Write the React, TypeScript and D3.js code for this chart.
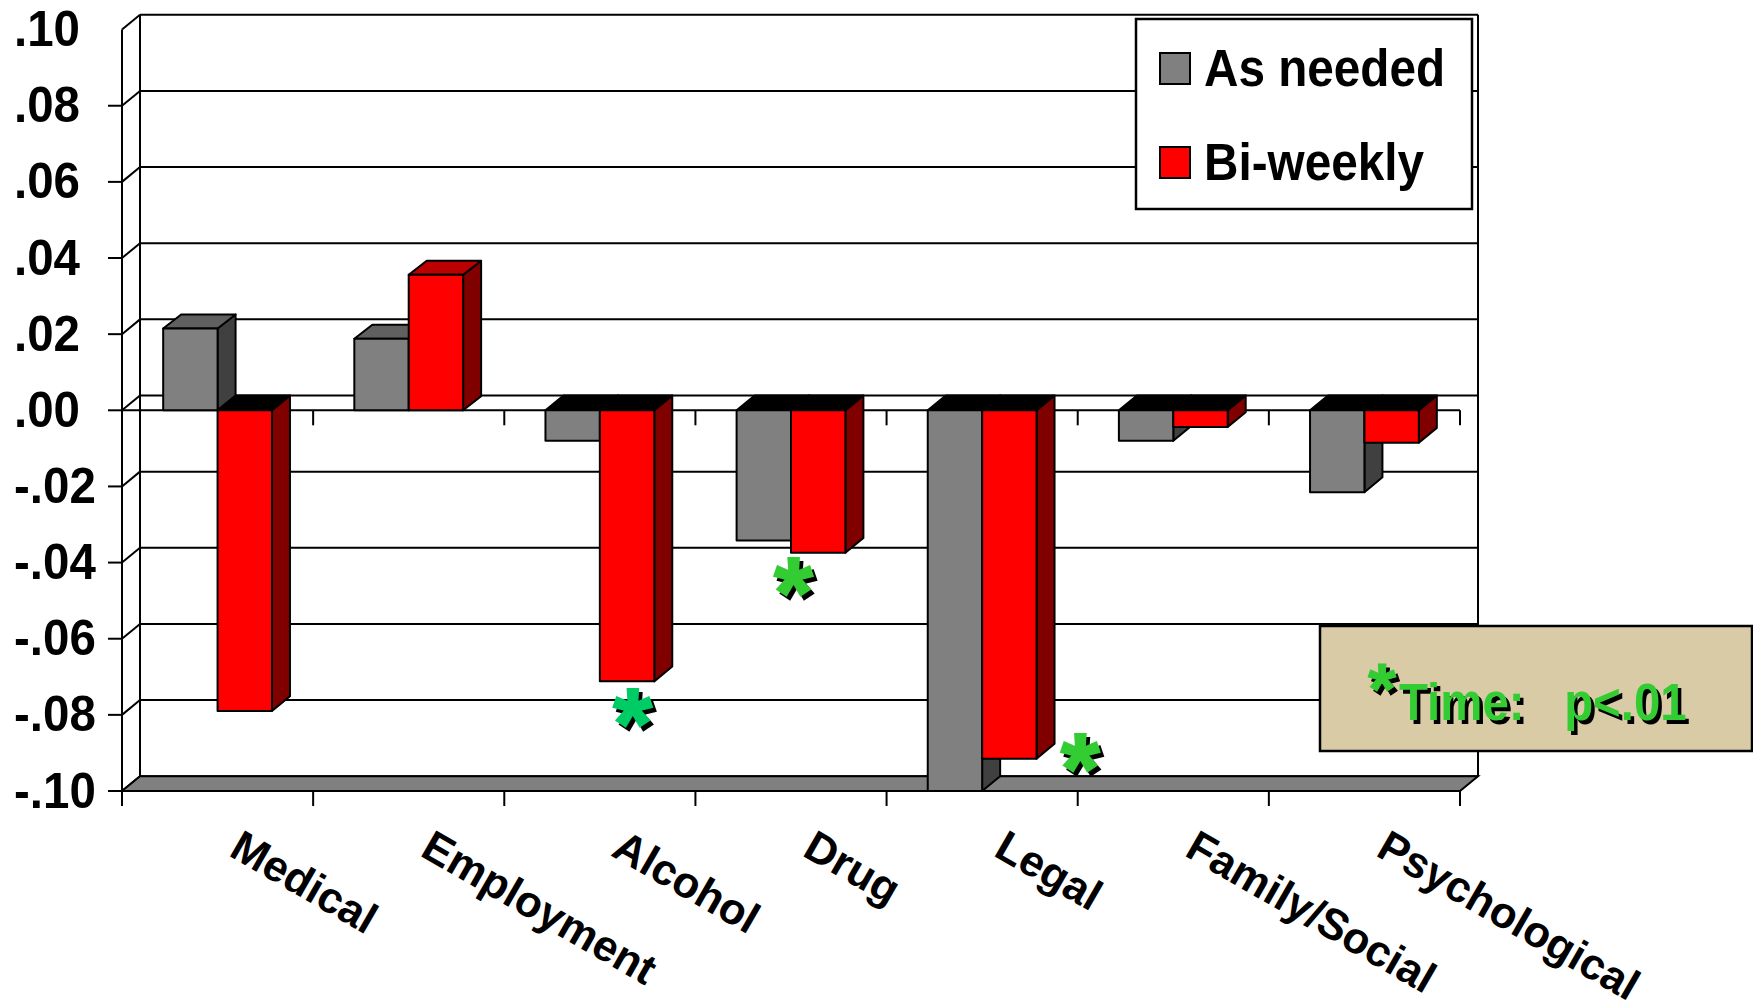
import * as d3 from "d3";

const categories = ["Medical", "Employment", "Alcohol", "Drug", "Legal", "Family/Social", "Psychological"];
const seriesNames = ["As needed", "Bi-weekly"];
const asNeeded = [0.0215, 0.0188, -0.008, -0.0342, -0.1, -0.008, -0.0215];
const biWeekly = [-0.079, 0.0356, -0.0712, -0.0374, -0.0915, -0.0044, -0.0085];
const yTicks = [0.1, 0.08, 0.06, 0.04, 0.02, 0, -0.02, -0.04, -0.06, -0.08, -0.1];
const yTickLabels = [".10", ".08", ".06", ".04", ".02", ".00", "-.02", "-.04", "-.06", "-.08", "-.10"];
// category position (in bands) and value of the significance stars
const starPos = [2.67, 3.51, 5.01];
const starVal = [-0.0788, -0.0444, -0.0906];
const starFill = ["#00cc66", "#33cc33", "#33cc33"];

const W = 1753;
const H = 1005;
const FONT = "'Liberation Sans', Arial, sans-serif";

const DX = 18;
const DY = -14.8;

const x = d3.scaleLinear().domain([0, categories.length]).range([122, 1460]);
const y = d3.scaleLinear().domain([-0.1, 0.1]).range([791, 29.6]);
const sub = d3.scaleBand<string>().domain(seriesNames).range([0, x(1) - x(0)]).paddingInner(0).paddingOuter(0.757);

const colors: Record<string, { front: string; top: string; side: string }> = {
  "As needed": { front: "#808080", top: "#606060", side: "#404040" },
  "Bi-weekly": { front: "#ff0000", top: "#bb0000", side: "#800000" },
};

function poly(points: [number, number][]) {
  return points.map((p) => p.join(",")).join(" ");
}

function Bar({ cat, name, value }: { cat: number; name: string; value: number }) {
  const c = colors[name];
  const x0 = x(cat) + (sub(name) as number);
  const x1 = x0 + sub.bandwidth();
  const yv = y(value);
  const y0 = y(0);
  const neg = value < 0;
  const topY = neg ? y0 : yv;
  const botY = neg ? yv : y0;
  const dy = neg ? DY : DY + 0.8;
  return (
    <g stroke="#000" strokeWidth={2} strokeLinejoin="round">
      <polygon fill={c.side} points={poly([[x1, topY], [x1 + DX, topY + dy], [x1 + DX, botY + dy], [x1, botY]])} />
      <polygon fill={neg ? "#000" : c.top} points={poly([[x0, topY], [x1, topY], [x1 + DX, topY + dy], [x0 + DX, topY + dy]])} />
      <rect x={x0} y={topY} width={x1 - x0} height={botY - topY} fill={c.front} />
    </g>
  );
}

// the original text is a little narrower than plain Liberation Sans Bold
function Label({ x: tx, y: ty, size, squeeze = 0.94, children }: { x: number; y: number; size: number; squeeze?: number; children: string }) {
  return (
    <text transform={`translate(${tx},${ty}) scale(${squeeze},1)`} fontFamily={FONT} fontWeight="bold" fontSize={size} fill="#000">
      {children}
    </text>
  );
}

function Shadowed({ x: tx, y: ty, size, fill, thick = 0, squeeze = 1, children }: { x: number; y: number; size: number; fill: string; thick?: number; squeeze?: number; children: string }) {
  return (
    <g fontFamily={FONT} fontWeight="bold" fontSize={size} strokeWidth={thick}>
      <text transform={`translate(${tx + 3.5},${ty + 3.5}) scale(${squeeze},1)`} fill="#000" stroke="#000">{children}</text>
      <text transform={`translate(${tx},${ty}) scale(${squeeze},1)`} fill={fill} stroke={fill}>{children}</text>
    </g>
  );
}

export default function App() {
  const left = x(0);
  const right = x(categories.length);
  const bottom = y(-0.1);
  const zero = y(0);
  const bands = d3.range(categories.length + 1);

  return (
    <svg width={W} height={H} viewBox={`0 0 ${W} ${H}`} style={{ position: "absolute", left: 0, top: 0, display: "block", background: "#fff" }}>
      {/* back wall and gridlines */}
      <g stroke="#000" strokeWidth={2} fill="none">
        {yTicks.map((t) => (
          <g key={t}>
            <line x1={left + DX} x2={right + DX} y1={y(t) + DY} y2={y(t) + DY} />
            <line x1={left} x2={left + DX} y1={y(t)} y2={y(t) + DY} />
            {t !== 0.1 && <line x1={left - 14} x2={left} y1={y(t)} y2={y(t)} />}
          </g>
        ))}
        <line x1={left} x2={left} y1={y(0.1)} y2={bottom + 15} />
        <line x1={left + DX} x2={left + DX} y1={y(0.1) + DY} y2={bottom + DY} />
        <line x1={right + DX} x2={right + DX} y1={y(0.1) + DY} y2={bottom + DY} />
      </g>

      {/* floor */}
      <polygon
        fill="#808080"
        stroke="#000"
        strokeWidth={2}
        points={poly([[left, bottom], [right, bottom], [right + DX, bottom + DY], [left + DX, bottom + DY]])}
      />

      {/* zero line and category ticks */}
      <g stroke="#000" strokeWidth={2}>
        <line x1={left} x2={right} y1={zero} y2={zero} />
        {bands.map((i) => (
          <g key={i}>
            <line x1={x(i)} x2={x(i)} y1={zero} y2={zero + 15} />
            <line x1={x(i)} x2={x(i)} y1={bottom} y2={bottom + 15} />
          </g>
        ))}
      </g>

      {/* bars */}
      {categories.map((c, i) => (
        <g key={c}>
          <Bar cat={i} name={seriesNames[0]} value={asNeeded[i]} />
          <Bar cat={i} name={seriesNames[1]} value={biWeekly[i]} />
        </g>
      ))}

      {/* y tick labels */}
      {yTicks.map((t, i) => (
        <Label key={t} x={14} y={y(t) + 16.5} size={50} squeeze={0.95}>{yTickLabels[i]}</Label>
      ))}

      {/* category labels */}
      <g fontFamily={FONT} fontWeight="bold" fontSize={43.6} fill="#000">
        {categories.map((c, i) => (
          <text key={c} transform={`translate(${x(i + 0.5) + 10},855) rotate(30)`}>{c}</text>
        ))}
      </g>

      {/* stars */}
      {starPos.map((p, i) => (
        <Shadowed key={p} x={x(p) - 19} y={y(starVal[i]) + 48} size={100} fill={starFill[i]} thick={2}>*</Shadowed>
      ))}

      {/* legend */}
      <rect x={1136} y={19} width={336} height={190} fill="#fff" stroke="#000" strokeWidth={2.5} />
      {seriesNames.map((s, i) => (
        <g key={s}>
          <rect x={1160} y={53 + i * 94} width={30} height={31} fill={colors[s].front} stroke="#000" strokeWidth={2} />
          <Label x={1204} y={86 + i * 94} size={51} squeeze={0.935}>{s}</Label>
        </g>
      ))}

      {/* annotation box */}
      <rect x={1320} y={626} width={432} height={125} fill="#d9cba5" stroke="#000" strokeWidth={2.5} />
      <Shadowed x={1368} y={714} size={72} fill="#33cc33" thick={1}>*</Shadowed>
      <Shadowed x={1399} y={720} size={51} squeeze={0.93} fill="#33cc33">{"Time:\u00a0\u00a0\u00a0p<.01"}</Shadowed>
    </svg>
  );
}
